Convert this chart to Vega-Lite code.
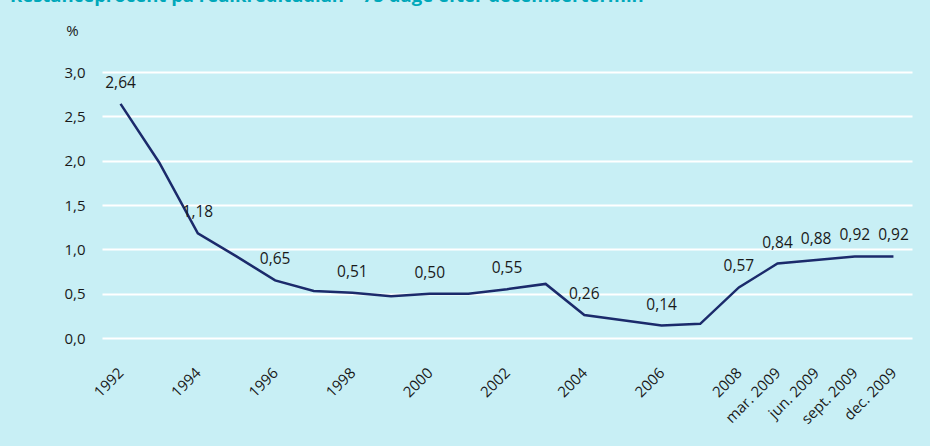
{
  "$schema": "https://vega.github.io/schema/vega-lite/v6.json",
  "width": 810,
  "height": 266,
  "autosize": {"type": "none"},
  "padding": {"left": 102, "top": 72, "right": 18, "bottom": 108},
  "background": "#c8eff5",
  "config": {
    "locale": {"number": {"decimal": ",", "thousands": ".", "grouping": [3], "currency": ["", " kr."]}},
    "view": {"stroke": null},
    "font": "Open Sans"
  },
  "title": {
    "text": "Restanceprocent på realkreditudlån – 75 dage efter decembertermin",
    "anchor": "start",
    "frame": "group",
    "dx": -92,
    "dy": 1.5,
    "baseline": "alphabetic",
    "fontSize": 18.5,
    "fontWeight": "bold",
    "color": "#00a8ba",
    "font": "Open Sans"
  },
  "data": {
    "values": [
      {"period": "1992", "value": 2.64, "labelled": true},
      {"period": "1993", "value": 1.98, "labelled": false},
      {"period": "1994", "value": 1.18, "labelled": true},
      {"period": "1995", "value": 0.92, "labelled": false},
      {"period": "1996", "value": 0.65, "labelled": true},
      {"period": "1997", "value": 0.53, "labelled": false},
      {"period": "1998", "value": 0.51, "labelled": true},
      {"period": "1999", "value": 0.47, "labelled": false},
      {"period": "2000", "value": 0.50, "labelled": true},
      {"period": "2001", "value": 0.50, "labelled": false},
      {"period": "2002", "value": 0.55, "labelled": true},
      {"period": "2003", "value": 0.61, "labelled": false},
      {"period": "2004", "value": 0.26, "labelled": true},
      {"period": "2005", "value": 0.20, "labelled": false},
      {"period": "2006", "value": 0.14, "labelled": true},
      {"period": "2007", "value": 0.16, "labelled": false},
      {"period": "2008", "value": 0.57, "labelled": true},
      {"period": "mar. 2009", "value": 0.84, "labelled": true},
      {"period": "jun. 2009", "value": 0.88, "labelled": true},
      {"period": "sept. 2009", "value": 0.92, "labelled": true},
      {"period": "dec. 2009", "value": 0.92, "labelled": true}
    ]
  },
  "encoding": {
    "x": {
      "field": "period",
      "type": "ordinal",
      "sort": null,
      "scale": {"type": "point", "padding": 0.48},
      "axis": {
        "values": ["1992", "1994", "1996", "1998", "2000", "2002", "2004", "2006", "2008", "mar. 2009", "jun. 2009", "sept. 2009", "dec. 2009"],
        "labelAngle": -45,
        "labelAlign": "right",
        "labelBaseline": "middle",
        "labelPadding": 32,
        "labelFontSize": 15,
        "labelColor": "#1a1a1a",
        "ticks": false,
        "domain": false,
        "grid": false,
        "title": null
      }
    },
    "y": {
      "field": "value",
      "type": "quantitative",
      "scale": {"domain": [0, 3]},
      "axis": {
        "values": [0, 0.5, 1, 1.5, 2, 2.5, 3],
        "format": ".1f",
        "grid": true,
        "gridColor": "#ffffff",
        "gridWidth": 2,
        "ticks": false,
        "domain": false,
        "labelPadding": 17,
        "labelFontSize": 15,
        "labelColor": "#1a1a1a",
        "title": "%",
        "titleAngle": 0,
        "titleX": -30,
        "titleY": -42,
        "titleAlign": "center",
        "titleBaseline": "middle",
        "titleFontWeight": "normal",
        "titleFontSize": 15,
        "titleColor": "#1a1a1a"
      }
    }
  },
  "layer": [
    {
      "mark": {"type": "line", "color": "#1b2a6b", "strokeWidth": 2.5}
    },
    {
      "transform": [{"filter": "datum.labelled"}],
      "mark": {"type": "text", "dy": -21, "fontSize": 15.5, "color": "#1a1a1a", "font": "Open Sans"},
      "encoding": {
        "text": {"field": "value", "type": "quantitative", "format": ".2f"}
      }
    }
  ]
}
